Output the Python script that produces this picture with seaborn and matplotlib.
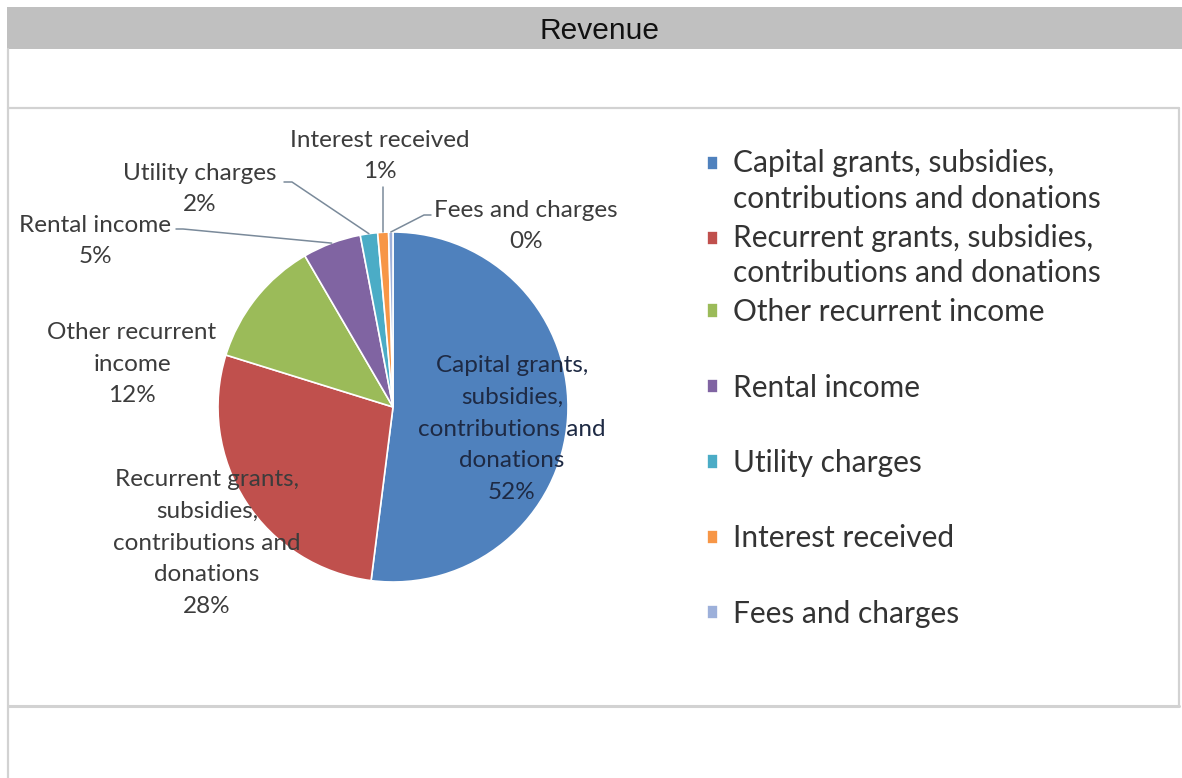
import numpy as np
import matplotlib
matplotlib.use("Agg")
import matplotlib.pyplot as plt
import seaborn as sns
from matplotlib.patches import Rectangle
from matplotlib.legend_handler import HandlerPatch

# Revenue shares (percent of total)
categories = [
    "Capital grants, subsidies, contributions and donations",
    "Recurrent grants, subsidies, contributions and donations",
    "Other recurrent income",
    "Rental income",
    "Utility charges",
    "Interest received",
    "Fees and charges",
]
shares = [52.0, 27.8, 11.8, 5.4, 1.6, 1.0, 0.4]

legend_labels = [
    "Capital grants, subsidies,\ncontributions and donations",
    "Recurrent grants, subsidies,\ncontributions and donations",
    "Other recurrent income",
    "Rental income",
    "Utility charges",
    "Interest received",
    "Fees and charges",
]
slice_labels = [
    "Capital grants,\nsubsidies,\ncontributions and\ndonations",
    "Recurrent grants,\nsubsidies,\ncontributions and\ndonations",
    "Other recurrent\nincome",
    "Rental income",
    "Utility charges",
    "Interest received",
    "Fees and charges",
]
colors = ["#4F81BD", "#C0504D", "#9BBB59", "#8064A2", "#4BACC6", "#F79646", "#9DB0DA"]

sns.set_theme(style="white")
plt.rcParams["font.family"] = ["Lato", "DejaVu Sans"]

W, H = 1182, 778
fig = plt.figure(figsize=(W / 100, H / 100), dpi=100)
ax = fig.add_axes([0, 0, 1, 1])


def fy(y):
    """Convert a top-down pixel row into the axes' upward y coordinate."""
    return H - y


# Panel chrome: grey title band and light frame lines
frame_c = "#D2D2D2"
ax.add_patch(Rectangle((7, fy(49)), W - 7, 42, facecolor="#C0C0C0", edgecolor="none", zorder=0))
ax.plot([8, 8], [fy(49), fy(H)], color=frame_c, lw=1.6, zorder=0)
ax.plot([8, 1179], [fy(108), fy(108)], color=frame_c, lw=1.6, zorder=0)
ax.plot([1179, 1179], [fy(108), fy(706)], color=frame_c, lw=1.6, zorder=0)
ax.plot([8, 1179], [fy(706), fy(706)], color=frame_c, lw=2.2, zorder=0)
ax.text(600, fy(31), "Revenue", ha="center", va="center", fontsize=21.5,
        family=["Liberation Sans", "DejaVu Sans"], color="#111111")

# Pie
cx, cy, r = 393, fy(407), 175
wedges, _ = ax.pie(shares, colors=colors, startangle=90, counterclock=False,
                   center=(cx, cy), radius=r,
                   wedgeprops=dict(edgecolor="white", linewidth=1.2))
ax.set_xlim(0, W)
ax.set_ylim(0, H)
ax.set_aspect("auto")
ax.axis("off")

# Data labels: category name plus rounded share
label_pos = [(512, 429), (207, 543), (132, 364), (95, 241), (200, 189), (380, 156), (526, 226)]
text_c = "#3C3C3C"
for i, (lx, ly) in enumerate(label_pos):
    txt = f"{slice_labels[i]}\n{round(shares[i]):.0f}%"
    col = "#1E2A44" if i == 0 else text_c
    ax.text(lx, fy(ly), txt, ha="center", va="center", fontsize=17.5,
            linespacing=1.63, color=col, zorder=5)


def edge_point(w):
    a = np.deg2rad((w.theta1 + w.theta2) / 2)
    return cx + r * np.cos(a), cy + r * np.sin(a)


# Leader lines for the small slices
lead_c = "#7A8A9A"
ex, ey = edge_point(wedges[3])
ax.plot([176, 183, ex], [fy(229), fy(229), ey], color=lead_c, lw=1.1, zorder=4)
ex, ey = edge_point(wedges[4])
ax.plot([284, 292, ex], [fy(182), fy(182), ey], color=lead_c, lw=1.1, zorder=4)
ex, ey = edge_point(wedges[5])
ax.plot([ex, ex], [fy(187), ey], color=lead_c, lw=1.1, zorder=4)
ex, ey = edge_point(wedges[6])
ax.plot([431, 424, ex], [fy(215), fy(215), ey], color=lead_c, lw=1.1, zorder=4)


def square_handler(shift):
    """Legend key drawn as a small square, raised by `shift` points."""
    def make(legend, orig_handle, xdescent, ydescent, width, height, fontsize):
        return Rectangle((-xdescent, -ydescent + shift), width, height)
    return HandlerPatch(patch_func=make)


# Legend in two blocks: tightly stacked long entries, then evenly spaced short ones
leg_kw = dict(frameon=False, fontsize=21.5, handlelength=0.36, handleheight=0.36,
              handletextpad=0.5, borderpad=0, borderaxespad=0, labelcolor="#333333",
              loc="upper left", bbox_transform=fig.transFigure)
two_line = {wedges[0]: square_handler(13.3), wedges[1]: square_handler(13.3)}
leg1 = ax.legend(wedges[:3], legend_labels[:3], labelspacing=0.36, handler_map=two_line,
                 bbox_to_anchor=(707 / W, 1 - 149 / H), **leg_kw)
for t in leg1.get_texts():
    t.set_linespacing(1.34)
ax.add_artist(leg1)
leg2 = ax.legend(wedges[3:], legend_labels[3:], labelspacing=1.58,
                 bbox_to_anchor=(707 / W, 1 - 374 / H), **leg_kw)

fig.savefig("out.png", dpi=100, facecolor="white")
